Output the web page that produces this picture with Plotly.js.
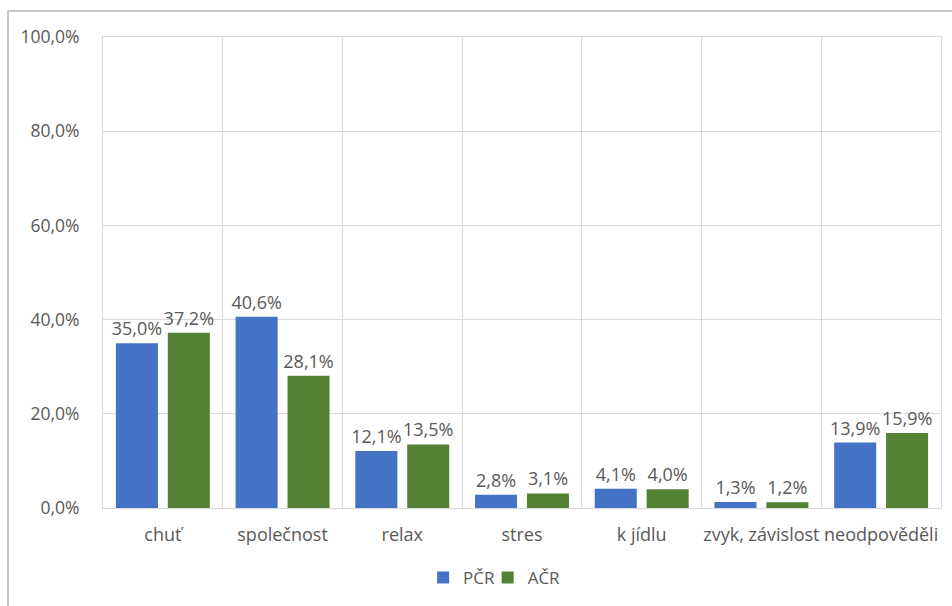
<!DOCTYPE html>
<html>
<head>
<meta charset="utf-8">
<script src="https://cdn.plot.ly/plotly-3.0.1.min.js"></script>
<style>html,body{margin:0;padding:0;background:#fff;}#chart{width:952px;height:606px;}</style>
</head>
<body>
<div id="chart"></div>
<script>
const categories = ["chuť", "společnost", "relax", "stres", "k jídlu", "zvyk, závislost", "neodpověděli"];
const pcr = [35.0, 40.6, 12.1, 2.8, 4.1, 1.3, 13.9];
const acr = [37.2, 28.1, 13.5, 3.1, 4.0, 1.2, 15.9];
const seriesNames = ["PČR", "AČR"];
const yTicks = [0, 20, 40, 60, 80, 100];
const yTickText = yTicks.map(v => v.toFixed(1).replace(".", ",") + "%");

const font = "Open Sans, Segoe UI, sans-serif";
const textColor = "#595959";

function barTrace(name, vals, color, legendId) {
  return {
    type: "bar", name: name, x: categories, y: vals,
    marker: {color: color},
    legend: legendId,
    texttemplate: "%{y:.1f}%",
    textposition: "outside",
    constraintext: "none",
    cliponaxis: false,
    textfont: {family: font, size: 18, color: textColor},
    hoverinfo: "skip"
  };
}

const data = [
  barTrace(seriesNames[0], pcr, "#4472C4", "legend"),
  barTrace(seriesNames[1], acr, "#548235", "legend2")
];

const legendBase = {orientation: "h", xanchor: "left", y: -0.146, yanchor: "middle",
                    bgcolor: "rgba(0,0,0,0)",
                    font: {family: font, size: 17, color: textColor}};

const layout = {
  width: 952, height: 606,
  margin: {l: 103, r: 11, t: 37, b: 97},
  paper_bgcolor: "#fff", plot_bgcolor: "#fff",
  separators: ", ",
  font: {family: font, size: 17, color: textColor},
  barmode: "group",
  bargap: 0.133,
  bargroupgap: 0.19,
  showlegend: true,
  legend: Object.assign({}, legendBase, {x: 0.382}),
  legend2: Object.assign({}, legendBase, {x: 0.459}),
  xaxis: {
    type: "category", tickson: "boundaries", showgrid: true, gridcolor: "#d9d9d9", gridwidth: 1,
    ticks: "", ticklabelstandoff: 10, tickangle: 0, automargin: false,
    showline: true, linecolor: "#d9d9d9", mirror: true, zeroline: false,
    tickfont: {family: font, size: 18, color: textColor}
  },
  yaxis: {
    range: [0, 100], tickvals: yTicks, ticktext: yTickText, automargin: false,
    showgrid: true, gridcolor: "#d9d9d9", gridwidth: 1,
    showline: true, linecolor: "#d9d9d9", mirror: true, zeroline: false,
    ticks: "", ticklabelstandoff: 19,
    tickfont: {family: font, size: 17.5, color: textColor}
  },
  shapes: [{
    type: "rect", xref: "paper", yref: "paper",
    x0: -0.1134, x1: 1.2, y0: -0.4, y1: 1.0551,
    line: {color: "#c8c8c8", width: 2}, fillcolor: "rgba(0,0,0,0)", layer: "below"
  }]
};

Plotly.newPlot("chart", data, layout, {staticPlot: true, displayModeBar: false});
</script>
</body>
</html>
